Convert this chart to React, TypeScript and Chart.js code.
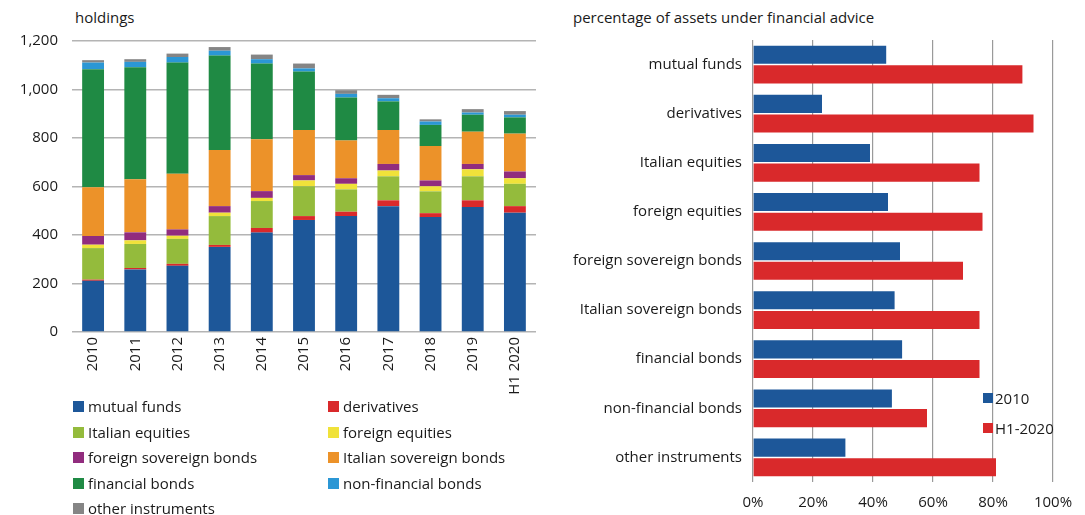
import React, { useEffect, useRef } from "react";
import { Chart, registerables } from "chart.js";

Chart.register(...registerables);

const FONT = "'Open Sans', sans-serif";
const FS = 15;

// Left chart: holdings (stacked)
const years = ["2010", "2011", "2012", "2013", "2014", "2015", "2016", "2017", "2018", "2019", "H1 2020"];
const mutualFunds = [211, 258, 273, 351, 410, 462, 478, 519, 474, 515, 492];
const derivatives = [5, 6, 8, 8, 19, 16, 18, 24, 16, 28, 27];
const italianEquities = [130, 99, 103, 119, 111, 123, 92, 99, 90, 99, 92];
const foreignEquities = [14, 15, 13, 14, 13, 24, 23, 24, 21, 29, 23];
const foreignSovereign = [36, 33, 26, 27, 28, 22, 23, 27, 24, 22, 28];
const italianSovereign = [201, 219, 230, 232, 214, 186, 156, 140, 142, 133, 156];
const financialBonds = [487, 462, 458, 389, 312, 241, 177, 118, 87, 70, 67];
const nonFinancialBonds = [27, 22, 23, 20, 18, 13, 15, 13, 14, 9, 11];
const otherInstruments = [10, 11, 14, 15, 19, 20, 15, 14, 9, 14, 15];
const yTicks = [0, 200, 400, 600, 800, 1000, 1200];

const seriesNames = [
  "mutual funds",
  "derivatives",
  "Italian equities",
  "foreign equities",
  "foreign sovereign bonds",
  "Italian sovereign bonds",
  "financial bonds",
  "non-financial bonds",
  "other instruments",
];
const seriesColors = ["#1d5799", "#d9292b", "#94bb3c", "#f0e23a", "#912c7e", "#ec9229", "#1f8a44", "#2b97d5", "#858585"];
const seriesData = [
  mutualFunds,
  derivatives,
  italianEquities,
  foreignEquities,
  foreignSovereign,
  italianSovereign,
  financialBonds,
  nonFinancialBonds,
  otherInstruments,
];

// Right chart: percentage of assets under financial advice
const instruments = [
  "mutual funds",
  "derivatives",
  "Italian equities",
  "foreign equities",
  "foreign sovereign bonds",
  "Italian sovereign bonds",
  "financial bonds",
  "non-financial bonds",
  "other instruments",
];
const pct2010 = [44.4, 23, 39, 45, 49, 47.2, 49.7, 46.3, 30.8];
const pctH12020 = [89.8, 93.5, 75.5, 76.5, 70, 75.5, 75.5, 58, 81];
const pctTicks = [0, 20, 40, 60, 80, 100];
const rightSeriesNames = ["2010", "H1-2020"];
const rightColors = ["#1d5799", "#d9292b"];

export default function App() {
  const leftRef = useRef<HTMLCanvasElement>(null);
  const rightRef = useRef<HTMLCanvasElement>(null);

  useEffect(() => {
    const left = new Chart(leftRef.current!, {
      type: "bar",
      data: {
        labels: years,
        datasets: seriesData.map((d, i) => ({
          label: seriesNames[i],
          data: d,
          backgroundColor: seriesColors[i],
          borderWidth: 0,
          barPercentage: 0.74,
          categoryPercentage: 0.7,
        })),
      },
      options: {
        animation: false,
        responsive: false,
        maintainAspectRatio: false,
        layout: { padding: { left: 0, right: 4, top: 10, bottom: 0 } },
        plugins: { legend: { display: false }, tooltip: { enabled: false } },
        scales: {
          x: {
            stacked: true,
            grid: { display: false, drawTicks: false },
            border: { display: false },
            ticks: {
              color: "#1a1a1a",
              font: { family: FONT, size: FS },
              minRotation: 90,
              maxRotation: 90,
              padding: 5,
            },
            afterFit: (s: any) => {
              s.height = 70;
            },
          },
          y: {
            stacked: true,
            min: 0,
            max: 1200,
            afterBuildTicks: (s: any) => {
              s.ticks = yTicks.map((v) => ({ value: v }));
            },
            grid: { color: "#b4b4b4", lineWidth: 1.6, drawTicks: false },
            border: { display: false },
            ticks: {
              color: "#1a1a1a",
              font: { family: FONT, size: FS },
              padding: 14,
              callback: (v: any) => Number(v).toLocaleString("en-US"),
            },
            afterFit: (s: any) => {
              s.width = 72;
            },
          },
        },
      },
    });

    const right = new Chart(rightRef.current!, {
      type: "bar",
      data: {
        labels: instruments,
        datasets: [pct2010, pctH12020].map((d, i) => ({
          label: rightSeriesNames[i],
          data: d,
          backgroundColor: rightColors[i],
          borderWidth: 0,
          barPercentage: 0.92,
          categoryPercentage: 0.8,
        })),
      },
      options: {
        indexAxis: "y",
        animation: false,
        responsive: false,
        maintainAspectRatio: false,
        layout: { padding: { left: 0, right: 32, top: 8, bottom: 0 } },
        plugins: { legend: { display: false }, tooltip: { enabled: false } },
        scales: {
          x: {
            min: 0,
            max: 100,
            afterBuildTicks: (s: any) => {
              s.ticks = pctTicks.map((v) => ({ value: v }));
            },
            grid: { color: "#9a9a9a", lineWidth: 1.2, drawTicks: false },
            border: { display: false },
            ticks: {
              color: "#1a1a1a",
              font: { family: FONT, size: FS },
              padding: 12,
              callback: (v: any) => `${v}%`,
            },
            afterFit: (s: any) => {
              s.height = 33;
            },
          },
          y: {
            grid: { display: false, drawTicks: false },
            border: { display: false },
            ticks: {
              color: "#1a1a1a",
              font: { family: FONT, size: FS },
              padding: 11,
            },
            afterFit: (s: any) => {
              s.width = 193;
            },
          },
        },
      },
    });

    return () => {
      left.destroy();
      right.destroy();
    };
  }, []);

  const textStyle: React.CSSProperties = {
    position: "absolute",
    fontFamily: FONT,
    fontSize: FS,
    color: "#1a1a1a",
    whiteSpace: "nowrap",
    lineHeight: "17px",
  };

  return (
    <div style={{ position: "fixed", left: 0, top: 0, width: 1085, height: 515, background: "#fff" }}>
      <div style={{ ...textStyle, left: 75, top: 9 }}>holdings</div>
      <div style={{ ...textStyle, left: 573, top: 9 }}>percentage of assets under financial advice</div>
      <canvas ref={leftRef} width={540} height={384} style={{ position: "absolute", left: 0, top: 18 }} />
      <canvas ref={rightRef} width={525} height={495} style={{ position: "absolute", left: 560, top: 20 }} />
      {seriesNames.map((name, i) => {
        const col = i % 2;
        const row = Math.floor(i / 2);
        const x = col === 0 ? 73 : 328;
        const y = 401 + row * 25.6;
        return (
          <React.Fragment key={name}>
            <div style={{ position: "absolute", left: x, top: y, width: 11, height: 11, background: seriesColors[i] }} />
            <div style={{ ...textStyle, left: x + 15, top: y - 3 }}>{name}</div>
          </React.Fragment>
        );
      })}
      {rightSeriesNames.map((name, i) => {
        const y = 393 + i * 30;
        return (
          <React.Fragment key={name}>
            <div style={{ position: "absolute", left: 983, top: y, width: 10, height: 10, background: rightColors[i] }} />
            <div style={{ ...textStyle, left: 995, top: y - 3 }}>{name}</div>
          </React.Fragment>
        );
      })}
    </div>
  );
}
